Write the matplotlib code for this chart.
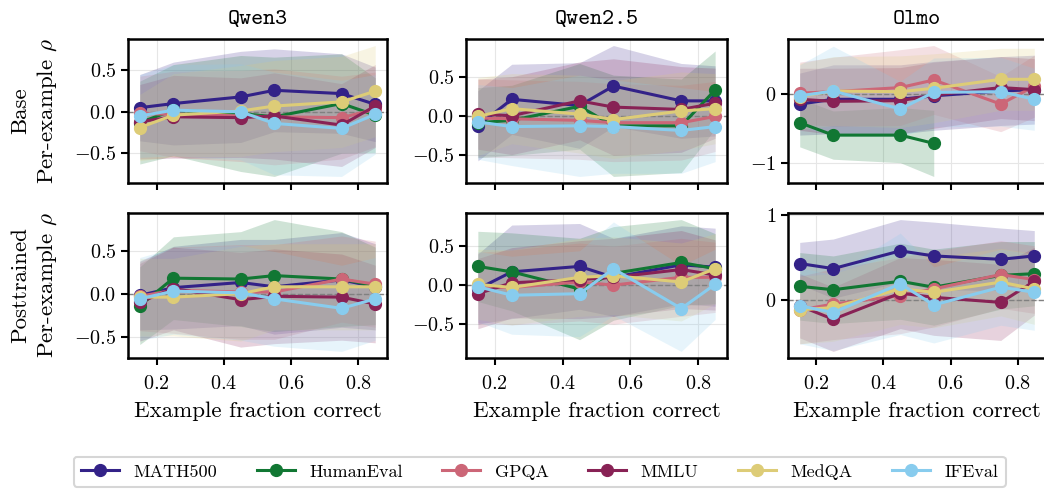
import matplotlib
matplotlib.use("Agg")
import matplotlib.pyplot as plt
import numpy as np

plt.rcParams['font.family'] = 'cmr10'
plt.rcParams['mathtext.fontset'] = 'cm'
plt.rcParams['axes.formatter.use_mathtext'] = True

# x positions (bin centres of example fraction correct)
x = [0.15, 0.25, 0.45, 0.55, 0.75, 0.85]

datasets = ['MATH500', 'HumanEval', 'GPQA', 'MMLU', 'MedQA', 'IFEval']
colors = ['#332288', '#117733', '#CC6677', '#882255', '#DDCC77', '#88CCEE']
models = ['Qwen3', 'Qwen2.5', 'Olmo']
rows = ['Base', 'Posttrained']

########################
# Base - Qwen3
########################
qwen3_base_mean = [
    [0.05, 0.10, 0.18, 0.26, 0.22, 0.09],
    [-0.13, 0.02, -0.02, -0.06, 0.10, -0.04],
    [-0.02, -0.03, -0.05, -0.06, -0.07, 0.03],
    [-0.12, -0.06, -0.07, -0.05, -0.16, 0.07],
    [-0.19, -0.04, 0.01, 0.07, 0.12, 0.25],
    [-0.05, 0.02, 0.00, -0.14, -0.20, -0.03],
]
qwen3_base_std = [
    [0.40, 0.50, 0.55, 0.50, 0.48, 0.45],
    [0.50, 0.55, 0.70, 0.72, 0.60, 0.45],
    [0.45, 0.52, 0.55, 0.58, 0.50, 0.45],
    [0.45, 0.50, 0.48, 0.52, 0.50, 0.50],
    [0.40, 0.50, 0.55, 0.55, 0.55, 0.55],
    [0.50, 0.55, 0.58, 0.62, 0.58, 0.48],
]

########################
# Base - Qwen2.5
########################
qwen25_base_mean = [
    [-0.12, 0.22, 0.14, 0.39, 0.20, 0.20],
    [-0.08, -0.05, 0.13, -0.12, -0.12, 0.34],
    [-0.02, -0.03, -0.05, -0.08, -0.08, 0.00],
    [0.03, 0.01, 0.20, 0.12, 0.09, 0.17],
    [0.00, 0.10, 0.03, -0.04, 0.07, 0.10],
    [-0.07, -0.13, -0.12, -0.13, -0.18, -0.13],
]
qwen25_base_std = [
    [0.45, 0.45, 0.55, 0.52, 0.48, 0.45],
    [0.45, 0.45, 0.55, 0.65, 0.60, 0.50],
    [0.50, 0.50, 0.50, 0.50, 0.48, 0.45],
    [0.45, 0.50, 0.50, 0.62, 0.55, 0.45],
    [0.50, 0.45, 0.50, 0.50, 0.50, 0.45],
    [0.48, 0.50, 0.65, 0.60, 0.55, 0.45],
]

########################
# Base - Olmo (HumanEval only has the first four bins)
########################
olmo_base_mean = [
    [-0.15, -0.08, -0.08, -0.03, 0.04, 0.06],
    [-0.42, -0.60, -0.60, -0.72],
    [0.01, 0.03, 0.09, 0.20, -0.15, 0.11],
    [-0.08, -0.11, -0.10, -0.02, 0.09, 0.06],
    [-0.04, 0.04, 0.03, 0.08, 0.21, 0.21],
    [-0.03, 0.04, -0.22, 0.02, 0.03, -0.08],
]
olmo_base_std = [
    [0.45, 0.50, 0.50, 0.50, 0.50, 0.50],
    [0.35, 0.35, 0.40, 0.48],
    [0.45, 0.50, 0.55, 0.50, 0.40, 0.45],
    [0.45, 0.48, 0.48, 0.48, 0.45, 0.45],
    [0.48, 0.50, 0.52, 0.50, 0.45, 0.45],
    [0.45, 0.65, 0.40, 0.50, 0.50, 0.45],
]

########################
# Posttrained - Qwen3
########################
qwen3_post_mean = [
    [-0.02, 0.07, 0.13, 0.08, 0.16, 0.08],
    [-0.14, 0.18, 0.17, 0.21, 0.17, 0.09],
    [-0.03, 0.04, 0.02, 0.02, 0.17, 0.11],
    [-0.10, 0.06, -0.07, -0.03, -0.04, -0.12],
    [-0.04, -0.04, 0.00, 0.08, 0.08, 0.08],
    [-0.06, 0.03, 0.01, -0.06, -0.17, -0.06],
]
qwen3_post_std = [
    [0.40, 0.48, 0.50, 0.55, 0.55, 0.50],
    [0.45, 0.48, 0.55, 0.65, 0.55, 0.45],
    [0.40, 0.50, 0.55, 0.55, 0.50, 0.50],
    [0.45, 0.48, 0.55, 0.55, 0.50, 0.45],
    [0.45, 0.45, 0.55, 0.50, 0.50, 0.50],
    [0.48, 0.50, 0.55, 0.55, 0.50, 0.48],
]

########################
# Posttrained - Qwen2.5
########################
qwen25_post_mean = [
    [-0.05, 0.17, 0.24, 0.10, 0.26, 0.23],
    [0.24, 0.17, -0.05, 0.15, 0.29, 0.21],
    [-0.03, -0.03, 0.04, 0.00, 0.10, 0.10],
    [-0.11, 0.03, 0.07, 0.10, 0.20, 0.13],
    [0.01, -0.03, 0.10, 0.12, 0.04, 0.21],
    [-0.02, -0.13, -0.11, 0.21, -0.30, 0.01],
]
qwen25_post_std = [
    [0.45, 0.60, 0.55, 0.50, 0.50, 0.50],
    [0.45, 0.50, 0.65, 0.60, 0.55, 0.45],
    [0.45, 0.48, 0.50, 0.50, 0.50, 0.45],
    [0.45, 0.45, 0.50, 0.50, 0.50, 0.45],
    [0.45, 0.48, 0.50, 0.50, 0.50, 0.45],
    [0.45, 0.50, 0.55, 0.60, 0.55, 0.45],
]

########################
# Posttrained - Olmo
########################
olmo_post_mean = [
    [0.43, 0.37, 0.58, 0.52, 0.48, 0.52],
    [0.16, 0.12, 0.22, 0.15, 0.29, 0.31],
    [-0.12, -0.05, 0.05, 0.13, 0.30, 0.24],
    [-0.07, -0.23, 0.08, 0.03, -0.03, 0.22],
    [-0.12, -0.09, 0.13, 0.09, 0.21, 0.13],
    [-0.07, -0.15, 0.19, -0.06, 0.15, 0.09],
]
olmo_post_std = [
    [0.25, 0.35, 0.37, 0.40, 0.37, 0.30],
    [0.40, 0.40, 0.45, 0.45, 0.40, 0.38],
    [0.40, 0.42, 0.45, 0.45, 0.40, 0.40],
    [0.38, 0.38, 0.42, 0.45, 0.45, 0.40],
    [0.40, 0.40, 0.42, 0.42, 0.40, 0.42],
    [0.45, 0.45, 0.60, 0.45, 0.45, 0.45],
]

means = [[qwen3_base_mean, qwen25_base_mean, olmo_base_mean],
         [qwen3_post_mean, qwen25_post_mean, olmo_post_mean]]
stds = [[qwen3_base_std, qwen25_base_std, olmo_base_std],
        [qwen3_post_std, qwen25_post_std, olmo_post_std]]
yticks = [[[-0.5, 0, 0.5], [-0.5, 0, 0.5], [-1, 0]],
          [[-0.5, 0, 0.5], [-0.5, 0, 0.5], [0, 1]]]

fig = plt.figure(figsize=(10.44, 4.91), dpi=100)
W, H = 1044.0, 491.0
col_px = [(128, 259), (466, 261), (788, 258)]
row_px = [(39, 144), (213, 145)]

axes = [[None] * 3 for _ in range(2)]
for r in range(2):
    for c in range(3):
        x0, w = col_px[c]
        top, h = row_px[r]
        ax = fig.add_axes([x0 / W, (H - top - h) / H, w / W, h / H])
        axes[r][c] = ax

        # shaded bands first, lines on top
        for i in range(len(datasets)):
            m = np.array(means[r][c][i])
            s = np.array(stds[r][c][i])
            xs = x[:len(m)]
            ax.fill_between(xs, m - s, m + s, color=colors[i], alpha=0.2, lw=0, zorder=1)
        for i in range(len(datasets)):
            m = means[r][c][i]
            ax.plot(x[:len(m)], m, color=colors[i], lw=2.2, marker='o', markersize=8.5,
                    label=datasets[i], zorder=3)

        ax.axhline(0, color='grey', ls='--', lw=1, zorder=2)
        ax.grid(True, color='#e6e6e6', lw=0.8, zorder=0)
        ax.set_axisbelow(True)
        ax.set_xticks([0.2, 0.4, 0.6, 0.8])
        ax.set_yticks(yticks[r][c])
        ax.tick_params(direction='out', length=5, width=1.5, labelsize=14.5)
        ax.tick_params(axis='x', pad=7)
        for sp in ax.spines.values():
            sp.set_linewidth(1.8)
            sp.set_color('black')

        if r == 0:
            ax.set_title(models[c], fontsize=16.5, family='cmtt10', pad=11)
            ax.tick_params(labelbottom=False)
        else:
            ax.set_xlabel('Example fraction correct', fontsize=16.5, labelpad=6)
        if c == 0:
            ax.set_ylabel(rows[r] + '\nPer-example $\\rho$', fontsize=16.5, linespacing=1.3,
                          labelpad=11)

handles, labels = axes[0][0].get_legend_handles_labels()
leg = fig.legend(handles, labels, loc='center', bbox_to_anchor=(0.517, 0.039), ncol=6,
                 frameon=True, fancybox=True, columnspacing=2.2, handlelength=2.1,
                 handletextpad=0.8, prop={'family': 'cmr10', 'size': 13})
leg.get_frame().set_edgecolor('#cccccc')
leg.get_frame().set_linewidth(1.5)

plt.savefig('out.png', dpi=100)
